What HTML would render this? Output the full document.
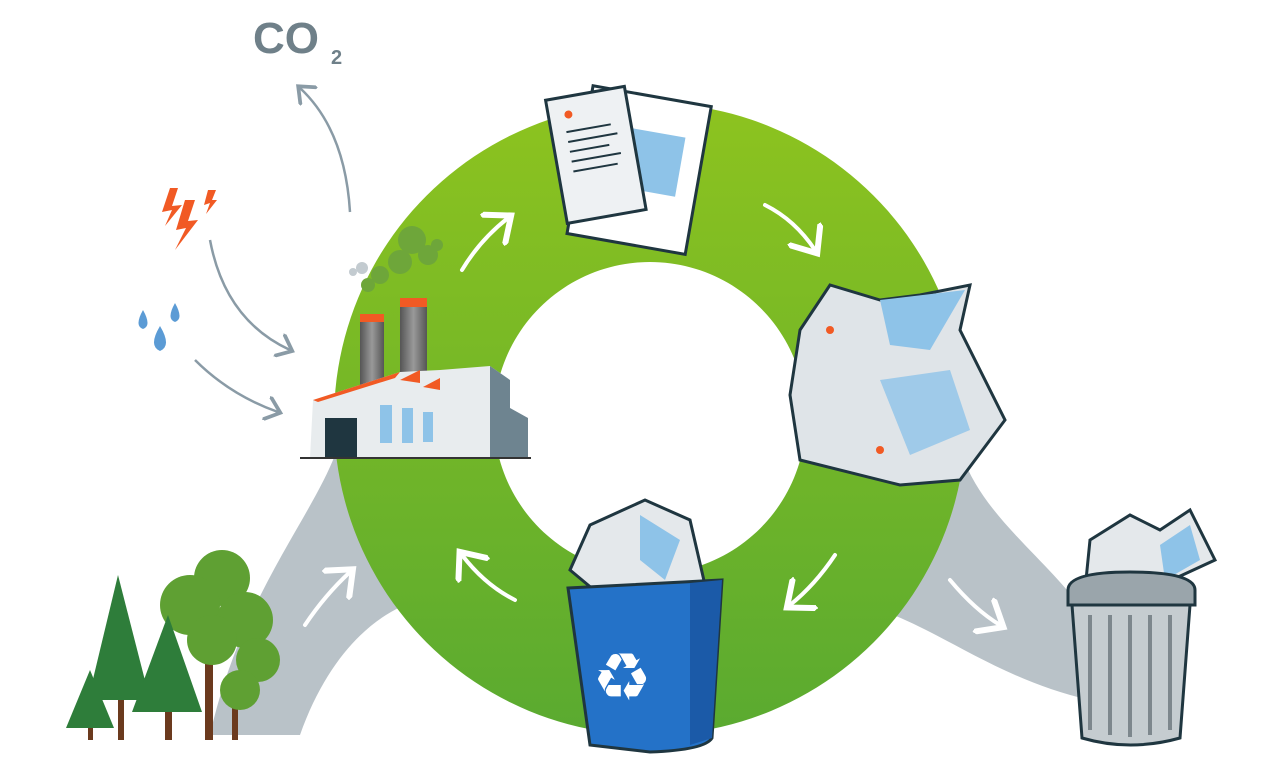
<!DOCTYPE html>
<html><head><style>body{margin:0;background:#fff}svg{display:block}</style></head><body>
<svg width="1280" height="770" viewBox="0 0 1280 770" xmlns="http://www.w3.org/2000/svg">
<defs>
<linearGradient id="g" x1="0" y1="0" x2="0" y2="1"><stop offset="0" stop-color="#8dc31f"/><stop offset="1" stop-color="#5aaa30"/></linearGradient>
<linearGradient id="cyl" x1="0" x2="1"><stop offset="0" stop-color="#555"/><stop offset=".5" stop-color="#999"/><stop offset="1" stop-color="#555"/></linearGradient>
<marker id="ah" markerWidth="10" markerHeight="10" refX="5" refY="5" orient="auto"><path d="M0,0 L6,5 L0,10" fill="none" stroke="#8a9ba6" stroke-width="1.5"/></marker>
<marker id="wh" markerWidth="10" markerHeight="10" refX="5" refY="5" orient="auto"><path d="M0,0 L6,5 L0,10" fill="none" stroke="#fff" stroke-width="1.5"/></marker>
</defs>
<path d="M335,455 C310,520 240,600 210,735 L300,735 C330,650 380,610 420,600 Z" fill="#b9c2c8"/>
<path d="M962,455 C985,520 1050,560 1090,620 L1090,700 C1000,680 940,630 880,610 Z" fill="#b9c2c8"/>
<path fill-rule="evenodd" fill="url(#g)" d="M650,103 a316,316 0 1,0 0.1,0 Z M650,262 a156,156 0 1,1 -0.1,0 Z"/>
<g stroke="#fff" stroke-width="4" fill="none" marker-end="url(#wh)" stroke-linecap="round">
<path d="M462,270 Q480,240 508,218"/><path d="M765,205 Q795,220 815,250"/><path d="M835,555 Q815,585 790,605"/><path d="M515,600 Q485,585 462,555"/><path d="M305,625 Q325,595 350,572"/><path d="M950,580 Q975,610 1000,625"/>
</g>
<text x="253" y="53" font-family="Liberation Sans,sans-serif" font-weight="bold" font-size="44" fill="#6f8089">CO</text>
<text x="331" y="64" font-family="Liberation Sans,sans-serif" font-weight="bold" font-size="20" fill="#6f8089">2</text>
<g stroke="#8a9ba6" stroke-width="2.5" fill="none" marker-end="url(#ah)">
<path d="M350,212 Q345,130 300,88"/><path d="M210,240 Q225,320 290,350"/><path d="M195,360 Q230,395 278,412"/>
</g>
<path d="M170,188 L162,212 L172,210 L165,226 L182,205 L172,206 L178,188Z M185,200 L176,230 L186,228 L175,250 L198,220 L188,221 L195,200Z M208,190 L204,205 L210,203 L206,214 L217,200 L212,200 L216,190Z" fill="#f15a24"/>
<g fill="#5b9bd5"><path d="M143,310 q-9,16 0,19 q9,-3 0,-19Z"/><path d="M175,303 q-9,16 0,19 q9,-3 0,-19Z"/><path d="M160,326 q-12,20 0,25 q12,-5 0,-25Z"/></g>
<g fill="#6ea63a"><circle cx="412" cy="240" r="14"/><circle cx="428" cy="255" r="10"/><circle cx="400" cy="262" r="12"/><circle cx="380" cy="275" r="9"/><circle cx="368" cy="285" r="7"/><circle cx="437" cy="245" r="6"/></g>
<g fill="#c3cbd0"><circle cx="362" cy="268" r="6"/><circle cx="353" cy="272" r="4"/></g>
<rect x="360" y="320" width="24" height="80" fill="url(#cyl)"/><rect x="360" y="314" width="24" height="8" fill="#f15a24"/>
<rect x="400" y="303" width="27" height="95" fill="url(#cyl)"/><rect x="400" y="298" width="27" height="9" fill="#f15a24"/>
<path d="M313,400 L400,372 L440,370 L490,366 L510,380 L510,408 L528,418 L528,458 L310,458Z" fill="#e8ecee"/>
<path d="M490,366 L510,380 L510,408 L528,418 L528,458 L490,458Z" fill="#6e8490"/>
<path d="M313,400 L400,372 L395,378 L318,402Z" fill="#f15a24"/>
<path d="M400,380 L420,370 L420,383Z M423,387 L440,378 L440,390Z" fill="#f15a24"/>
<rect x="325" y="418" width="32" height="40" fill="#1f3640"/>
<rect x="380" y="405" width="12" height="38" fill="#8ec3e8"/><rect x="402" y="408" width="11" height="35" fill="#8ec3e8"/><rect x="423" y="412" width="10" height="30" fill="#8ec3e8"/>
<rect x="300" y="457" width="231" height="2" fill="#333"/>
<g transform="rotate(-10 640 175)">
<rect x="580" y="95" width="120" height="150" fill="#fff" stroke="#1f3640" stroke-width="3" transform="rotate(20 640 170)"/>
<rect x="620" y="130" width="60" height="60" fill="#8ec3e8" transform="rotate(20 640 170)"/>
<rect x="560" y="85" width="80" height="125" fill="#eef1f3" stroke="#1f3640" stroke-width="3"/>
<circle cx="580" cy="103" r="4" fill="#f15a24"/>
<g stroke="#1f3640" stroke-width="2"><path d="M575,120h45M575,130h50M575,140h40M575,150h50M575,160h45"/></g>
</g>
<path d="M800,330 L830,285 L880,300 L920,295 L970,285 L960,330 L1005,420 L960,480 L900,485 L800,460 L790,395 Z" fill="#dfe4e8" stroke="#1f3640" stroke-width="3"/>
<path d="M880,300 L965,290 L930,350 L890,345Z" fill="#8ec3e8"/>
<path d="M880,380 L950,370 L970,430 L910,455Z" fill="#8ec3e8" opacity=".8"/>
<circle cx="880" cy="450" r="4" fill="#f15a24"/><circle cx="830" cy="330" r="4" fill="#f15a24"/>
<path d="M590,525 L645,500 L690,520 L705,585 L600,595 L570,570Z" fill="#e4e8eb" stroke="#1f3640" stroke-width="3"/>
<path d="M640,515 L680,540 L665,580 L640,560Z" fill="#8ec3e8"/>
<path d="M568,588 L722,580 L712,738 Q705,750 650,752 L590,745 Z" fill="#2472c8" stroke="#1f3640" stroke-width="3"/>
<path d="M690,583 L722,580 L712,738 L690,745Z" fill="#1b5aa8"/>
<text x="622" y="700" font-family="DejaVu Sans,sans-serif" font-size="66" fill="#fff" text-anchor="middle">♻</text>
<path d="M1090,540 L1130,515 L1160,530 L1190,510 L1215,560 L1150,590 L1085,590Z" fill="#e4e8eb" stroke="#1f3640" stroke-width="3"/>
<path d="M1160,545 L1190,525 L1200,560 L1165,580Z" fill="#8ec3e8"/>
<path d="M1068,590 Q1068,572 1130,572 Q1195,572 1195,590 L1195,605 L1068,605Z" fill="#9aa5ab" stroke="#1f3640" stroke-width="3"/>
<path d="M1072,605 L1190,605 L1180,738 Q1130,752 1082,738Z" fill="#c5ccd0" stroke="#1f3640" stroke-width="3"/>
<g stroke="#7d878d" stroke-width="4"><path d="M1090,615v115M1110,615v120M1130,615v122M1150,615v120M1170,615v115"/></g>
<g fill="#6b3a1e"><rect x="118" y="690" width="6" height="50"/><rect x="165" y="690" width="7" height="50"/><rect x="205" y="660" width="8" height="80"/><rect x="232" y="690" width="6" height="50"/><rect x="88" y="715" width="5" height="25"/></g>
<g fill="#5fa033"><circle cx="222" cy="578" r="28"/><circle cx="190" cy="605" r="30"/><circle cx="245" cy="620" r="28"/><circle cx="212" cy="640" r="25"/><circle cx="258" cy="660" r="22"/><circle cx="240" cy="690" r="20"/></g>
<g fill="#2e7d3a"><path d="M118,575 L88,700 L150,700Z"/><path d="M168,615 L132,712 L202,712Z"/><path d="M90,670 L66,728 L114,728Z"/></g>
</svg>
</body></html>
